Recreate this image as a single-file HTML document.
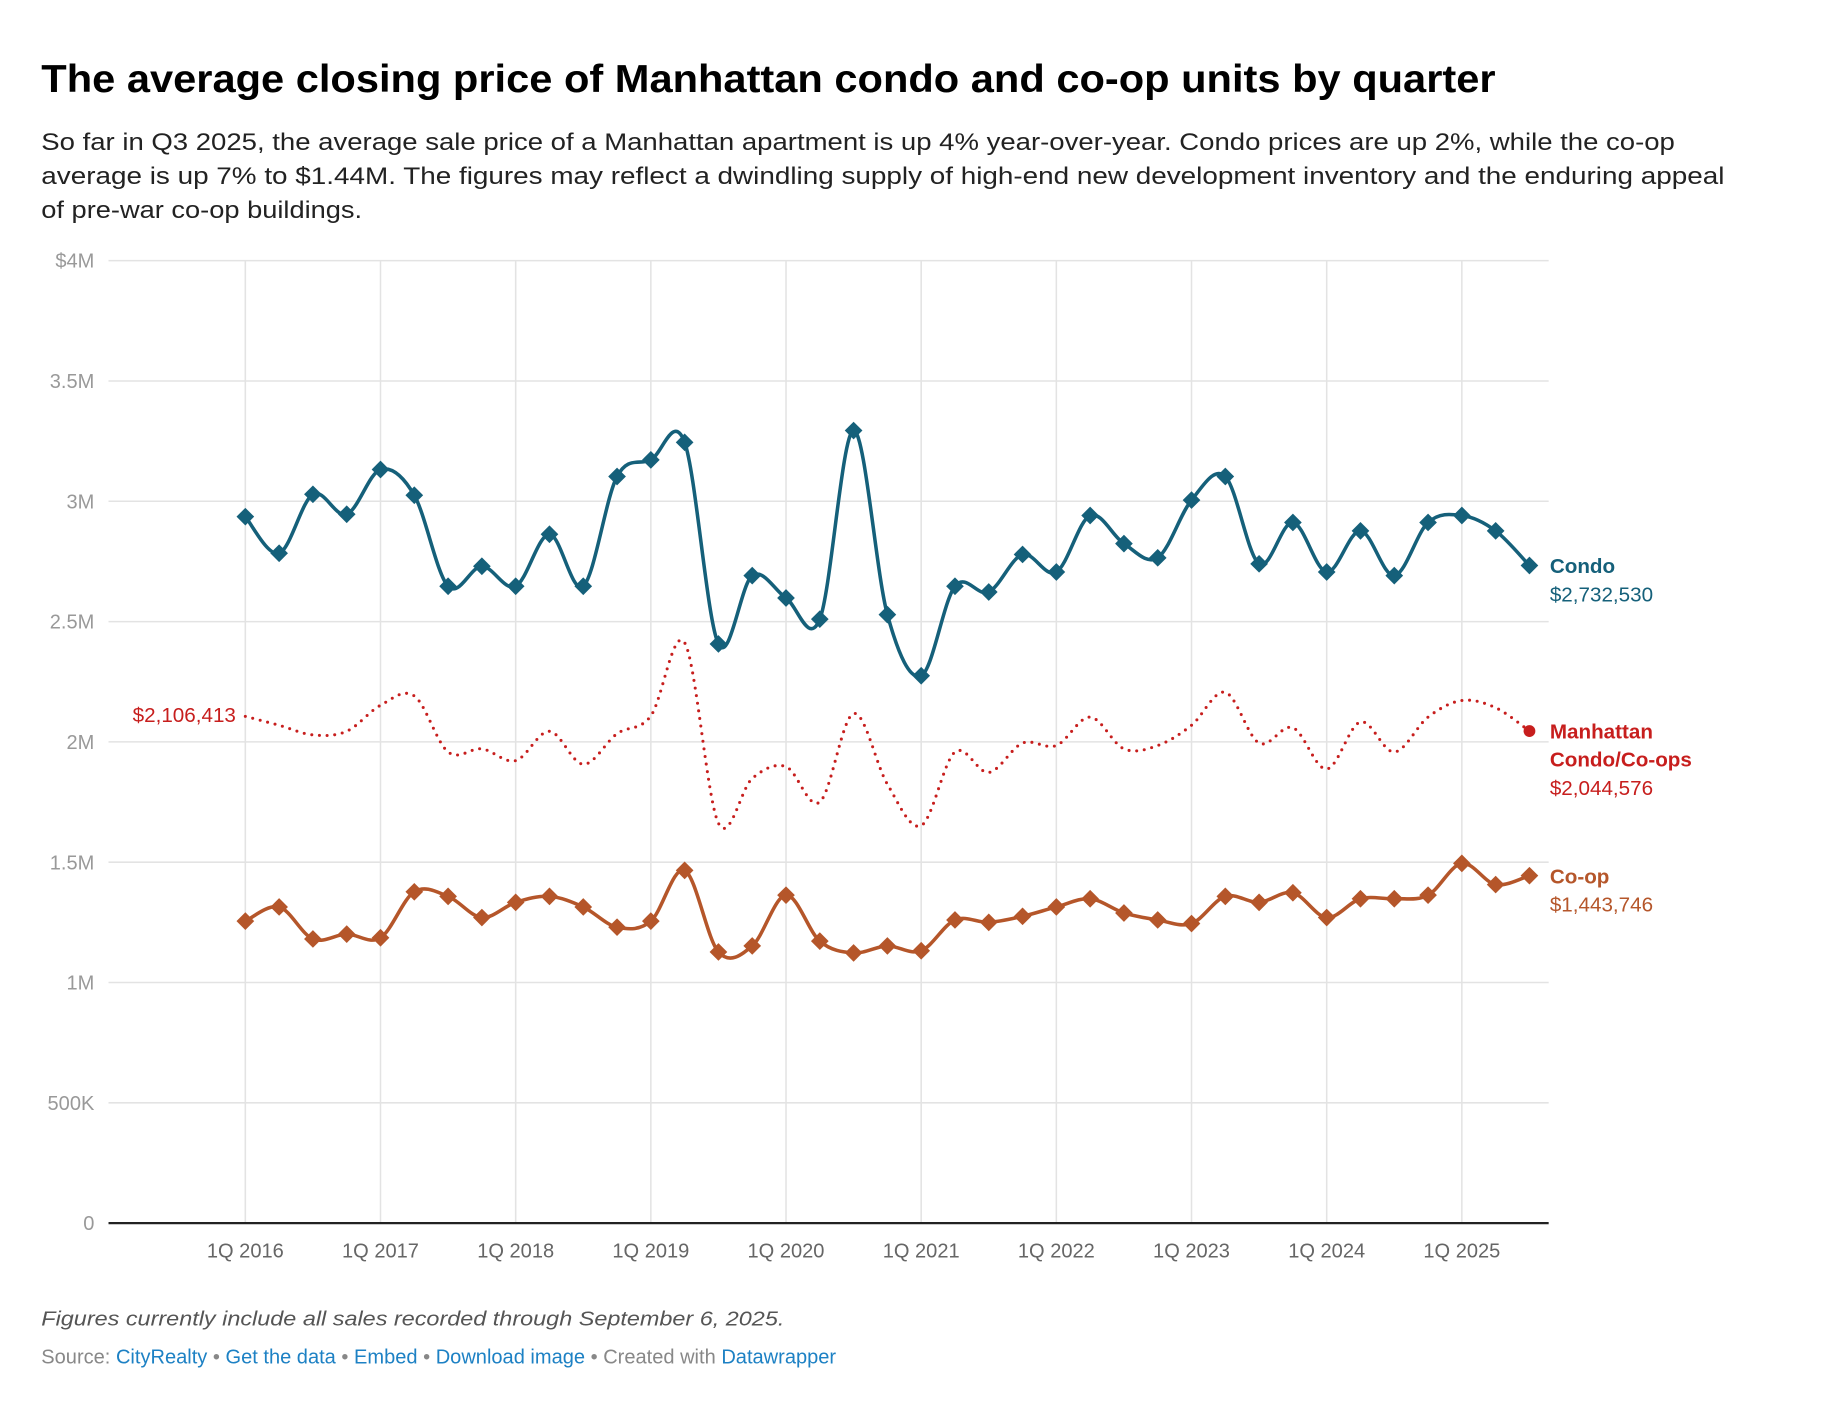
<!DOCTYPE html>
<html><head><meta charset="utf-8"><style>
html,body{margin:0;padding:0;background:#fff;}
svg{display:block;font-family:"Liberation Sans",sans-serif;}
</style></head><body>
<svg id="chart" width="1840" height="1428" viewBox="0 0 1560 1210.7" xmlns="http://www.w3.org/2000/svg">
<text x="35" y="78" font-size="33" font-weight="bold" fill="#000" textLength="1233" lengthAdjust="spacingAndGlyphs">The average closing price of Manhattan condo and co-op units by quarter</text>
<g font-size="20.5" fill="#222">
<text x="35" y="127" textLength="1385" lengthAdjust="spacingAndGlyphs">So far in Q3 2025, the average sale price of a Manhattan apartment is up 4% year-over-year. Condo prices are up 2%, while the co-op</text>
<text x="35" y="156" textLength="1427" lengthAdjust="spacingAndGlyphs">average is up 7% to $1.44M. The figures may reflect a dwindling supply of high-end new development inventory and the enduring appeal</text>
<text x="35" y="185" textLength="272" lengthAdjust="spacingAndGlyphs">of pre-war co-op buildings.</text>
</g>
<g id="grid"></g>
<g id="series"></g>
<g id="labels"></g>
<text x="35" y="1124" font-size="17.5" font-style="italic" fill="#555" textLength="630" lengthAdjust="spacingAndGlyphs">Figures currently include all sales recorded through September 6, 2025.</text>
<text x="35" y="1156" font-size="17" fill="#888">Source: <tspan fill="#1d81c4">CityRealty</tspan> • <tspan fill="#1d81c4">Get the data</tspan> • <tspan fill="#1d81c4">Embed</tspan>  • <tspan fill="#1d81c4">Download image</tspan> • Created with <tspan fill="#1d81c4">Datawrapper</tspan></text>
</svg>
<script>
const condo=[2.936,2.784,3.029,2.946,3.132,3.025,2.647,2.730,2.647,2.863,2.647,3.103,3.172,3.245,2.407,2.691,2.598,2.510,3.294,2.529,2.275,2.647,2.623,2.779,2.706,2.941,2.824,2.765,3.005,3.103,2.740,2.912,2.706,2.877,2.691,2.912,2.941,2.877,2.733];
const coop=[1.255,1.314,1.181,1.201,1.186,1.377,1.358,1.270,1.333,1.358,1.314,1.230,1.255,1.466,1.127,1.152,1.363,1.172,1.123,1.152,1.132,1.260,1.250,1.275,1.314,1.348,1.289,1.260,1.245,1.358,1.333,1.373,1.270,1.348,1.348,1.363,1.495,1.407,1.444];
const combined=[2.106,2.069,2.029,2.044,2.152,2.191,1.958,1.971,1.922,2.044,1.907,2.034,2.108,2.412,1.662,1.848,1.897,1.750,2.118,1.824,1.652,1.958,1.873,1.995,1.985,2.103,1.971,1.985,2.069,2.206,1.995,2.059,1.887,2.083,1.958,2.103,2.172,2.142,2.045];
const yTicks=[0,0.5,1,1.5,2,2.5,3,3.5,4];
const yTickLabels=["0","500K","1M","1.5M","2M","2.5M","3M","3.5M","$4M"];
const xTickLabels=["1Q 2016","1Q 2017","1Q 2018","1Q 2019","1Q 2020","1Q 2021","1Q 2022","1Q 2023","1Q 2024","1Q 2025"];
const NS="http://www.w3.org/2000/svg";
const X=i=>208+i*28.65, Y=v=>1037-v*204;
function mk(tag,attrs,parent,text){const e=document.createElementNS(NS,tag);for(const k in attrs)e.setAttribute(k,attrs[k]);if(text!==undefined)e.textContent=text;parent.appendChild(e);return e;}
const grid=document.getElementById('grid'),ser=document.getElementById('series'),lab=document.getElementById('labels');
yTicks.forEach((v,i)=>{
  if(v>0){const l=mk('line',{x1:92,x2:1313,y1:Y(v),y2:Y(v),stroke:'#e3e3e3','stroke-width':1.3},grid);
  
  }
  const t=mk('text',{x:80,y:Y(v)+6,'text-anchor':'end','font-size':17,fill:'#999'},grid,yTickLabels[i]);
  
  
});
xTickLabels.forEach((s,i)=>{
  const x=X(i*4);
  const l=mk('line',{x1:x,x2:x,y1:221,y2:1037,stroke:'#e3e3e3','stroke-width':1.3},grid);
  
  
  const t=mk('text',{x:x,y:1066,'text-anchor':'middle','font-size':17,fill:'#666'},grid,s);
  
  
});
const ax=mk('line',{x1:92,x2:1313,y1:1037,y2:1037,stroke:'#222','stroke-width':2},grid);


function path(vals){const p=vals.map((v,i)=>[X(i),Y(v)]);let d=`M${p[0][0]},${p[0][1]}`;
  for(let i=0;i<p.length-1;i++){const p0=p[Math.max(0,i-1)],p1=p[i],p2=p[i+1],p3=p[Math.min(p.length-1,i+2)];
  const t=1/6;d+=` C${p1[0]+(p2[0]-p0[0])*t},${p1[1]+(p2[1]-p0[1])*t} ${p2[0]-(p3[0]-p1[0])*t},${p2[1]-(p3[1]-p1[1])*t} ${p2[0]},${p2[1]}`;}return d;}
function series(vals,color,name,dotted,diamonds){
  const pa=mk('path',{d:path(vals),fill:'none',stroke:color,'stroke-width':dotted?2.6:3,'stroke-linecap':'round'},ser);
  if(dotted)pa.setAttribute('stroke-dasharray','0 6.5');
  
  
  if(diamonds)vals.forEach((v,i)=>{const x=X(i),y=Y(v),s=7.5;
    const m=mk('polygon',{points:`${x},${y-s} ${x+s},${y} ${x},${y+s} ${x-s},${y}`,fill:color},ser);
    
    });
}
series(combined,'#c71e1d','combined',true,false);
series(condo,'#15607a','condo',false,true);
series(coop,'#b5562a','coop',false,true);
const n=combined.length-1;
const dot=mk('circle',{cx:X(n),cy:Y(combined[n]),r:5,fill:'#c71e1d'},ser);


function lbl(lines,y,color,name){lines.forEach((ln,i)=>{const t=mk('text',{x:1314,y:y+i*24,'font-size':17.5,'font-weight':ln[1]?'bold':'normal',fill:color},lab,ln[0]);
  
  });}
lbl([["Condo",1],["$2,732,530",0]],486,'#15607a','condo-label');
lbl([["Manhattan",1],["Condo/Co-ops",1],["$2,044,576",0]],626,'#c71e1d','combined-label');
lbl([["Co-op",1],["$1,443,746",0]],749,'#b5562a','coop-label');
const st=mk('text',{x:200,y:612,'text-anchor':'end','font-size':17.5,fill:'#c71e1d'},lab,'$2,106,413');


</script>
</body></html>
